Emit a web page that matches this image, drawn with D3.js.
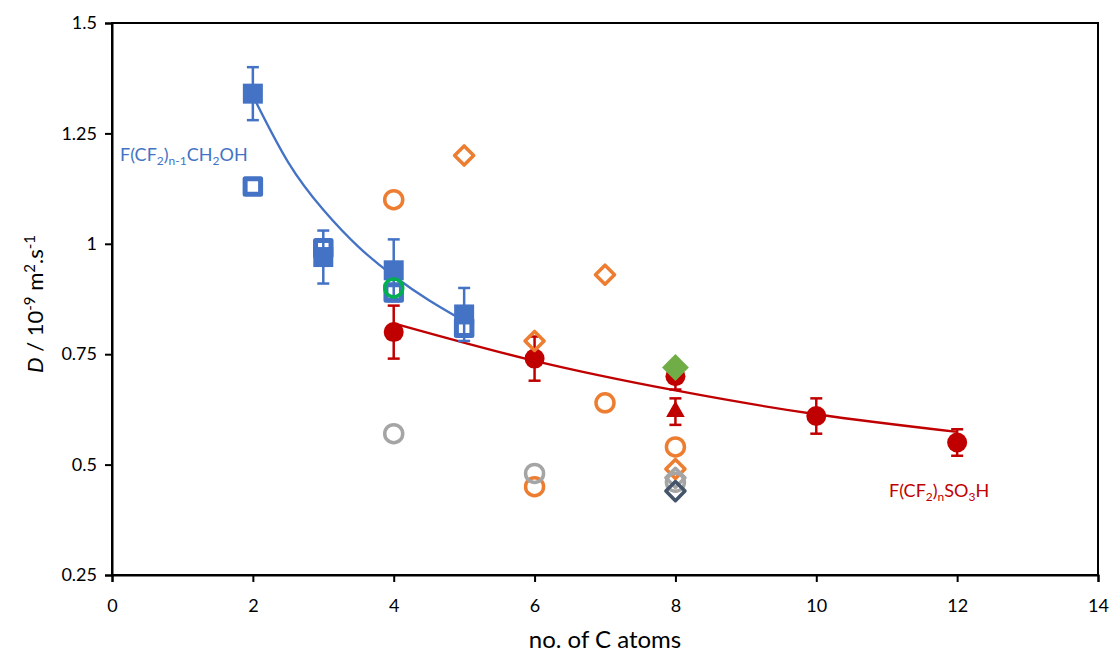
<!DOCTYPE html>
<html lang="en">
<head>
    <meta charset="UTF-8">
    <title>D vs no. of C atoms</title>
    <script src="https://d3js.org/d3.v7.min.js"></script>
    <style>
        body { margin: 0; background: #fff; }
        text { font-family: Lato, "Open Sans", sans-serif; }
        .tick-label { font-size: 18px; fill: #000; }
    </style>
</head>
<body>
    <script>
        // F(CF2)n-1CH2OH, filled squares with error bars
        const alcoholX = [2, 3, 4, 5];
        const alcoholD = [1.34, 0.97, 0.94, 0.84];
        const alcoholErr = [0.06, 0.06, 0.07, 0.06];
        // open squares
        const alcoholOpenX = [2, 3, 4, 5];
        const alcoholOpenD = [1.13, 0.99, 0.89, 0.81];

        // F(CF2)nSO3H, filled circles with error bars
        const acidX = [4, 6, 8, 10, 12];
        const acidD = [0.80, 0.74, 0.70, 0.61, 0.55];
        const acidErr = [0.06, 0.05, 0.03, 0.04, 0.03];

        const triangleX = [8];
        const triangleD = [0.62];
        const triangleErr = [0.03];

        const greenDiamondX = [8];
        const greenDiamondD = [0.72];

        const orangeCircleX = [4, 6, 7, 8];
        const orangeCircleD = [1.10, 0.45, 0.64, 0.54];
        const orangeDiamondX = [5, 6, 7, 8];
        const orangeDiamondD = [1.20, 0.78, 0.93, 0.49];

        const grayCircleX = [4, 6, 8];
        const grayCircleD = [0.57, 0.48, 0.46];
        const grayDiamondX = [8];
        const grayDiamondD = [0.47];

        const slateDiamondX = [8];
        const slateDiamondD = [0.44];

        const greenCircleX = [4];
        const greenCircleD = [0.90];

        // trend lines, points
        const alcoholFitX = [2, 2.5, 3, 3.5, 4, 4.5, 5];
        const alcoholFitD = [1.335, 1.185, 1.077, 0.993, 0.927, 0.872, 0.825];
        const acidFitX = [4, 6, 8, 10, 12];
        const acidFitD = [0.82, 0.735, 0.668, 0.614, 0.574];

        const xTicks = [0, 2, 4, 6, 8, 10, 12, 14];
        const yTicks = [0.25, 0.5, 0.75, 1, 1.25, 1.5];

        const W = 1112, H = 656;
        const plot = { left: 112, right: 1098, top: 23, bottom: 575 };

        const svg = d3.select("body").append("svg")
            .attr("width", W)
            .attr("height", H);

        const x = d3.scaleLinear().domain([0, 14]).range([plot.left, plot.right]);
        const y = d3.scaleLinear().domain([0.25, 1.5]).range([plot.bottom, plot.top]);

        const blue = "#4472C4", red = "#C00000", orange = "#ED7D31",
            gray = "#A5A5A5", green = "#00B050", lgreen = "#70AD47", slate = "#44546A";

        // plot frame
        svg.append("rect")
            .attr("x", plot.left).attr("y", plot.top)
            .attr("width", plot.right - plot.left)
            .attr("height", plot.bottom - plot.top)
            .attr("fill", "none").attr("stroke", "#000").attr("stroke-width", 2);

        const xAxis = svg.append("g")
            .attr("transform", `translate(0,${plot.bottom})`)
            .call(d3.axisBottom(x).tickValues(xTicks).tickSize(7).tickPadding(17).tickFormat(d3.format("d")));
        const yAxis = svg.append("g")
            .attr("transform", `translate(${plot.left},0)`)
            .call(d3.axisLeft(y).tickValues(yTicks).tickSize(7).tickPadding(8).tickFormat(d => String(d)));
        [xAxis, yAxis].forEach(g => {
            g.select(".domain").attr("stroke-width", 2);
            g.selectAll(".tick line").attr("stroke-width", 2);
            g.selectAll(".tick text").attr("class", "tick-label").attr("font-size", null).attr("font-family", null);
        });

        svg.append("text")
            .attr("x", (plot.left + plot.right) / 2)
            .attr("y", 648)
            .attr("text-anchor", "middle")
            .attr("font-size", 24)
            .text("no. of C atoms");

        const yTitle = svg.append("text")
            .attr("transform", "translate(43,304) rotate(-90)")
            .attr("text-anchor", "middle")
            .attr("font-size", 22);
        yTitle.append("tspan").attr("font-style", "italic").text("D");
        yTitle.append("tspan").text(" / 10");
        yTitle.append("tspan").attr("font-size", 15).attr("dy", -8).text("-9");
        yTitle.append("tspan").attr("dy", 8).text(" m");
        yTitle.append("tspan").attr("font-size", 15).attr("dy", -8).text("2");
        yTitle.append("tspan").attr("dy", 8).text(".s");
        yTitle.append("tspan").attr("font-size", 15).attr("dy", -8).text("-1");

        const pts = (xs, ys) => xs.map((v, i) => [v, ys[i]]);
        const line = d3.line().x(d => x(d[0])).y(d => y(d[1])).curve(d3.curveNatural);

        // trend lines
        svg.append("path").datum(pts(alcoholFitX, alcoholFitD))
            .attr("d", line).attr("fill", "none").attr("stroke", blue).attr("stroke-width", 2.3);
        svg.append("path").datum(pts(acidFitX, acidFitD))
            .attr("d", line).attr("fill", "none").attr("stroke", red).attr("stroke-width", 2.3);

        function errorBars(xs, ys, errs, color) {
            const g = svg.append("g").attr("stroke", color).attr("stroke-width", 2.5);
            xs.forEach((v, i) => {
                const cx = x(v), lo = y(ys[i] - errs[i]), hi = y(ys[i] + errs[i]);
                g.append("line").attr("x1", cx).attr("x2", cx).attr("y1", lo).attr("y2", hi);
                g.append("line").attr("x1", cx - 6).attr("x2", cx + 6).attr("y1", lo).attr("y2", lo);
                g.append("line").attr("x1", cx - 6).attr("x2", cx + 6).attr("y1", hi).attr("y2", hi);
            });
        }

        function markers(xs, ys, type, size, opts) {
            const sym = d3.symbol().type(type).size(size);
            svg.append("g").selectAll("path")
                .data(pts(xs, ys))
                .join("path")
                .attr("d", sym)
                .attr("transform", d => `translate(${x(d[0])},${y(d[1])})` + (opts.rotate ? ` rotate(${opts.rotate})` : ""))
                .attr("fill", opts.fill || "none")
                .attr("stroke", opts.stroke || "none")
                .attr("stroke-width", opts.strokeWidth || 0)
                .attr("stroke-linejoin", "round");
        }

        // blue series
        markers(alcoholOpenX, alcoholOpenD, d3.symbolSquare, 15.5 * 15.5, { fill: "#fff", stroke: blue, strokeWidth: 5 });
        errorBars(alcoholX, alcoholD, alcoholErr, blue);
        markers(alcoholX, alcoholD, d3.symbolSquare, 20 * 20, { fill: blue });

        // red series
        errorBars(acidX, acidD, acidErr, red);
        errorBars(triangleX, triangleD, triangleErr, red);
        markers(acidX, acidD, d3.symbolCircle, Math.PI * 10 * 10, { fill: red });
        markers(triangleX, triangleD, d3.symbolTriangle, 150, { fill: red });
        markers(greenDiamondX, greenDiamondD, d3.symbolSquare, 19 * 19, { fill: lgreen, rotate: 45 });

        // open markers
        markers(orangeCircleX, orangeCircleD, d3.symbolCircle, Math.PI * 9 * 9, { stroke: orange, strokeWidth: 3.5 });
        markers(orangeDiamondX, orangeDiamondD, d3.symbolSquare, 13.5 * 13.5, { stroke: orange, strokeWidth: 3.5, rotate: 45 });
        markers(grayCircleX, grayCircleD, d3.symbolCircle, Math.PI * 9 * 9, { stroke: gray, strokeWidth: 3.5 });
        markers(grayDiamondX, grayDiamondD, d3.symbolSquare, 13.5 * 13.5, { stroke: gray, strokeWidth: 3.5, rotate: 45 });
        markers(slateDiamondX, slateDiamondD, d3.symbolSquare, 13.5 * 13.5, { stroke: slate, strokeWidth: 3.5, rotate: 45 });
        markers(greenCircleX, greenCircleD, d3.symbolCircle, Math.PI * 9 * 9, { stroke: green, strokeWidth: 3.5 });

        // series labels
        const lab1 = svg.append("text").attr("x", 120).attr("y", 161)
            .attr("font-size", 18).attr("fill", blue);
        lab1.append("tspan").text("F(CF");
        lab1.append("tspan").attr("font-size", 12).attr("dy", 4).text("2");
        lab1.append("tspan").attr("dy", -4).text(")");
        lab1.append("tspan").attr("font-size", 12).attr("dy", 4).text("n-1");
        lab1.append("tspan").attr("dy", -4).text("CH");
        lab1.append("tspan").attr("font-size", 12).attr("dy", 4).text("2");
        lab1.append("tspan").attr("dy", -4).text("OH");

        const lab2 = svg.append("text").attr("x", 889).attr("y", 497)
            .attr("font-size", 18).attr("fill", red);
        lab2.append("tspan").text("F(CF");
        lab2.append("tspan").attr("font-size", 12).attr("dy", 4).text("2");
        lab2.append("tspan").attr("dy", -4).text(")");
        lab2.append("tspan").attr("font-size", 12).attr("dy", 4).text("n");
        lab2.append("tspan").attr("dy", -4).text("SO");
        lab2.append("tspan").attr("font-size", 12).attr("dy", 4).text("3");
        lab2.append("tspan").attr("dy", -4).text("H");
    </script>
</body>
</html>
